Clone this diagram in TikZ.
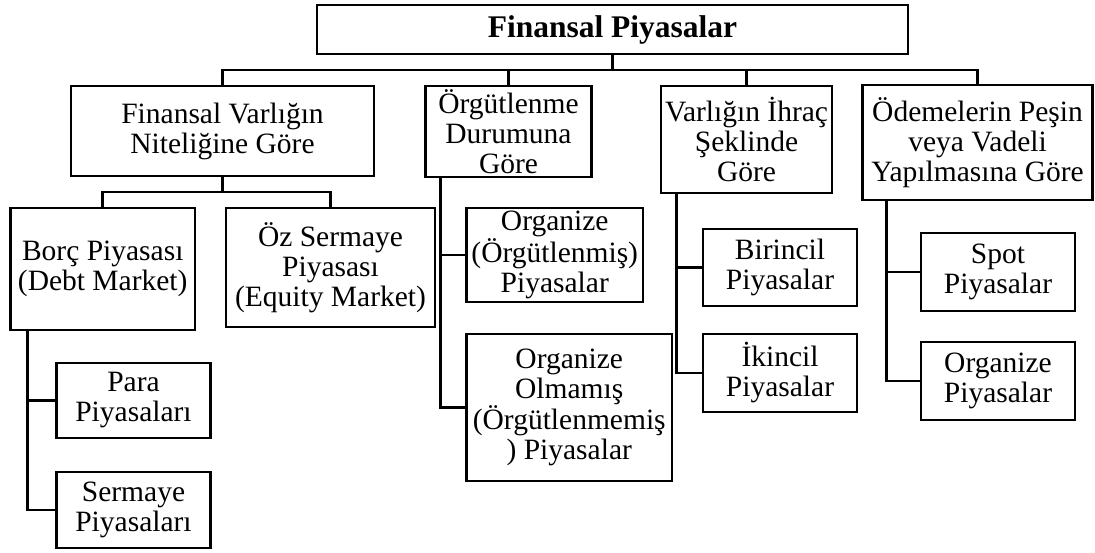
\documentclass[tikz,border=0pt]{standalone}
\usepackage{fontspec}
\setmainfont{Liberation Serif}

\tikzset{
  box/.style={draw=black, line width=2.8pt, fill=white, inner sep=0pt, align=center,
    font=\fontsize{29.5}{30}\selectfont},
  head/.style={box, font=\fontsize{31.5}{32}\selectfont\bfseries},
  link/.style={draw=black, line width=2.8pt, line cap=rect}
}

\begin{document}
\begin{tikzpicture}[x=1pt,y=-1pt]
    \useasboundingbox (0,0) rectangle (1095,552);
    % top and the four groups
    \node[head, minimum width=591, minimum height=49] (piyasa) at (612.5,29.5) {Finansal Piyasalar};
    \node[box, minimum width=303, minimum height=90] (nitelik) at (222.5,131) {Finansal Varlığın\\Niteliğine Göre};
    \node[box, minimum width=166, minimum height=91] (orgut) at (508.5,131.5) {Örgütlenme\\Durumuna\\Göre};
    \node[box, minimum width=171, minimum height=107] (ihrac) at (746.5,139.5) {Varlığın İhraç\\Şeklinde\\Göre};
    \node[box, minimum width=230, minimum height=115] (odeme) at (977.5,142.5) {Ödemelerin Peşin\\veya Vadeli\\Yapılmasına Göre};
    % first group
    \node[box, minimum width=184.5, minimum height=122] (borc) at (102.75,269) {Borç Piyasası\\(Debt Market)};
    \node[box, minimum width=209, minimum height=119] (oz) at (330.5,267.5) {Öz Sermaye\\Piyasası\\(Equity Market)};
    \node[box, minimum width=154, minimum height=75] (para) at (133.5,400.5) {Para\\Piyasaları};
    \node[box, minimum width=154, minimum height=76] (sermaye) at (133.5,510) {Sermaye\\Piyasaları};
    % second group
    \node[box, minimum width=176.5, minimum height=94] (organize) at (554.75,255) {Organize\\(Örgütlenmiş)\\Piyasalar};
    \node[box, minimum width=205.5, minimum height=147] (olmamis) at (569.25,407.5) {Organize\\Olmamış\\(Örgütlenmemiş\\) Piyasalar};
    % third group
    \node[box, minimum width=154, minimum height=77] (birincil) at (780,267.5) {Birincil\\Piyasalar};
    \node[box, minimum width=154, minimum height=78] (ikincil) at (780,373) {İkincil\\Piyasalar};
    % fourth group
    \node[box, minimum width=154, minimum height=78] (spot) at (998,272) {Spot\\Piyasalar};
    \node[box, minimum width=154, minimum height=78] (orgpiy) at (998,381) {Organize\\Piyasalar};

    % connectors
    \coordinate (hub) at (612.5,70);
    \coordinate (hubnitelik) at (222.5,192);
    \draw[link] (piyasa.south) -- (hub);
    \draw[link] (nitelik.north) |- (hub);
    \draw[link] (orgut.north) |- (hub);
    \draw[link] (ihrac.north) |- (hub);
    \draw[link] (odeme.north) |- (hub);
    \draw[link] (nitelik.south) -- (hubnitelik);
    \draw[link] (borc.north) |- (hubnitelik);
    \draw[link] (oz.north) |- (hubnitelik);
    \draw[link] ([xshift=18.5]borc.south west) |- (para.west);
    \draw[link] ([xshift=18.5]borc.south west) |- (sermaye.west);
    \draw[link] ([xshift=16.5]orgut.south west) |- (organize.west);
    \draw[link] ([xshift=16.5]orgut.south west) |- (olmamis.west);
    \draw[link] ([xshift=16.5]ihrac.south west) |- (birincil.west);
    \draw[link] ([xshift=16.5]ihrac.south west) |- (ikincil.west);
    \draw[link] ([xshift=25]odeme.south west) |- (spot.west);
    \draw[link] ([xshift=25]odeme.south west) |- (orgpiy.west);
\end{tikzpicture}
\end{document}
